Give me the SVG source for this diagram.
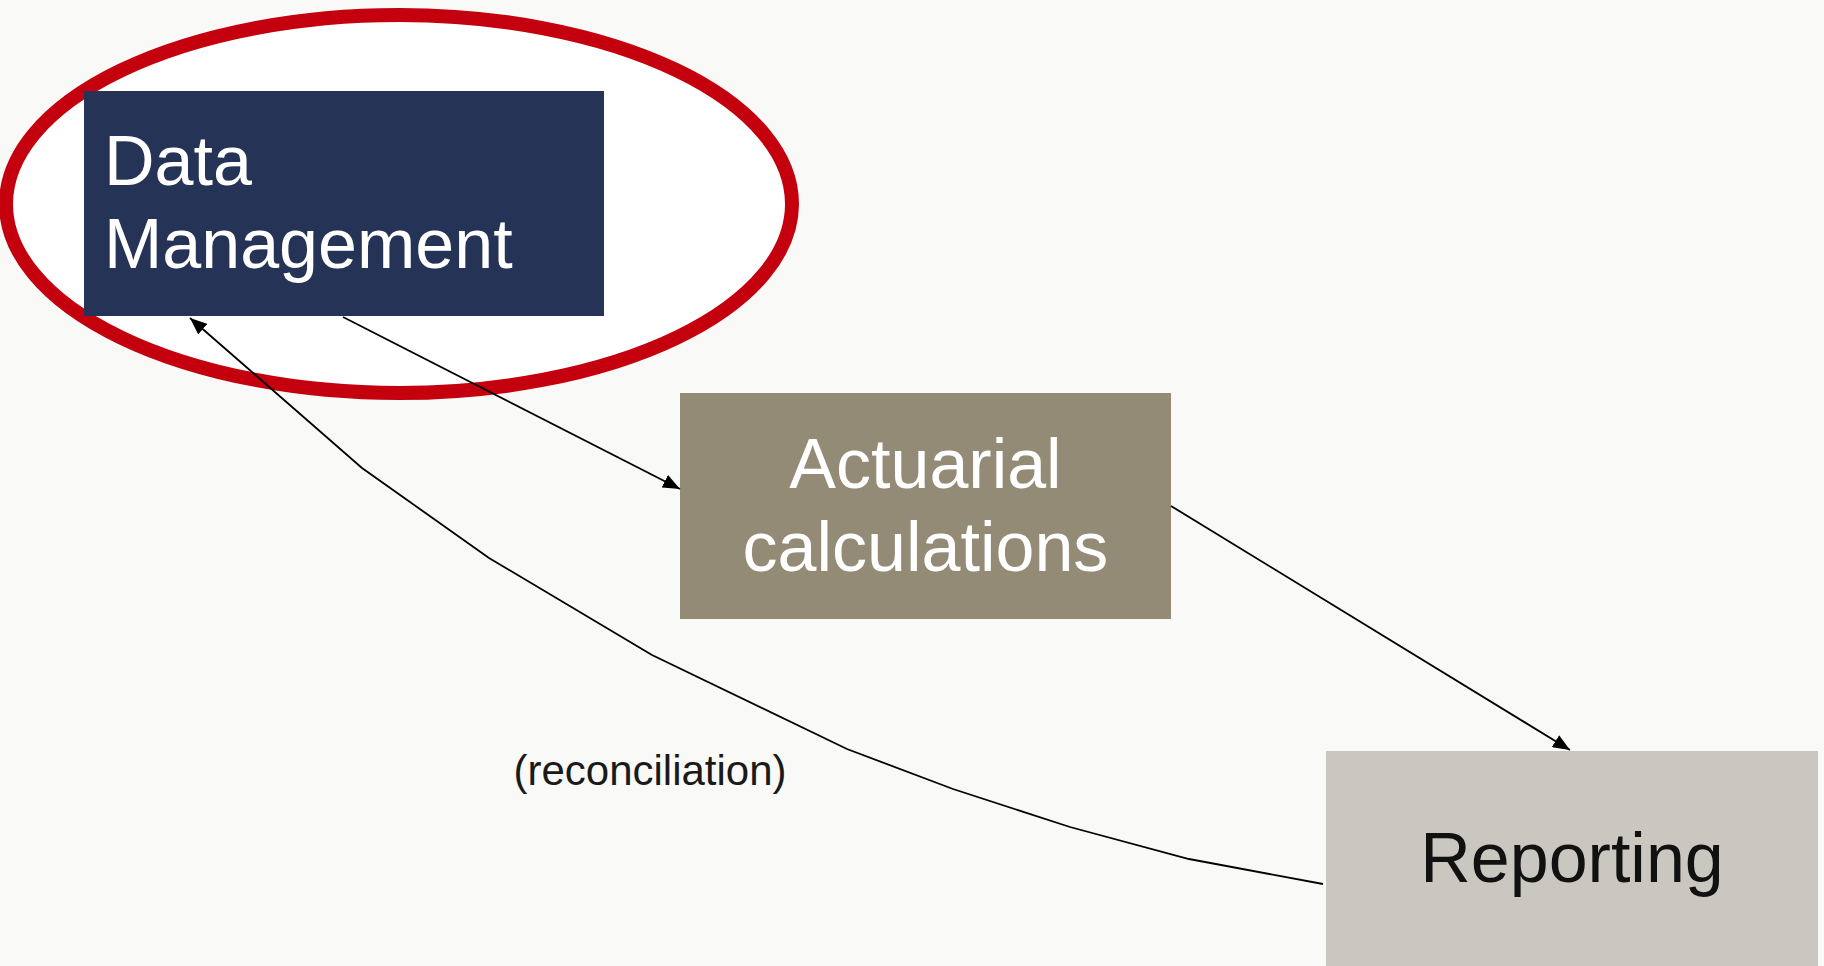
<svg xmlns="http://www.w3.org/2000/svg" width="1824" height="966" viewBox="0 0 1824 966">
  <style>
    .lbl { font-family: "Liberation Sans", Arial, sans-serif; font-size: 70px; }
    .white { fill: #ffffff; }
    .dark { fill: #111111; }
    .conn { fill: none; stroke: #000000; stroke-width: 1.8; }
    .edge-label { font-family: "Liberation Sans", Arial, sans-serif; font-size: 42px; fill: #1a1a1a; }
  </style>
  <defs>
    <marker id="arrow" markerUnits="userSpaceOnUse" markerWidth="18" markerHeight="14" refX="17" refY="7" orient="auto">
      <path d="M0,0 L17,7 L0,14 z" fill="#000000"/>
    </marker>
  </defs>
  <rect x="0" y="0" width="1824" height="966" fill="#F9F9F7"/>

  <g id="highlight">
    <ellipse cx="399" cy="204" rx="393" ry="189" fill="#ffffff" stroke="#C4000E" stroke-width="14"/>
  </g>

  <g id="node-data-management">
    <rect x="84" y="91" width="520" height="225" fill="#253456"/>
    <text class="lbl white" x="104" y="185">Data</text>
    <text class="lbl white" x="104" y="268">Management</text>
  </g>

  <g id="node-actuarial">
    <rect x="680" y="393" width="491" height="226" fill="#938B76"/>
    <text class="lbl white" x="925.5" y="488" text-anchor="middle">Actuarial</text>
    <text class="lbl white" x="925.5" y="571" text-anchor="middle">calculations</text>
  </g>

  <g id="node-reporting">
    <rect x="1326" y="751" width="492" height="226" fill="#C9C7BF"/>
    <text class="lbl dark" x="1572" y="882" text-anchor="middle">Reporting</text>
  </g>

  <g id="connectors">
    <line class="conn" x1="343" y1="317" x2="680" y2="489" marker-end="url(#arrow)"/>
    <line class="conn" x1="1171" y1="506" x2="1570" y2="750" marker-end="url(#arrow)"/>
    <polyline class="conn" points="1323,884 1189,859 1070,827 953,789 847,749 652,655 489,558 362,468 190,318" marker-end="url(#arrow)"/>
    <text class="edge-label" x="650" y="785" text-anchor="middle">(reconciliation)</text>
  </g>
</svg>
